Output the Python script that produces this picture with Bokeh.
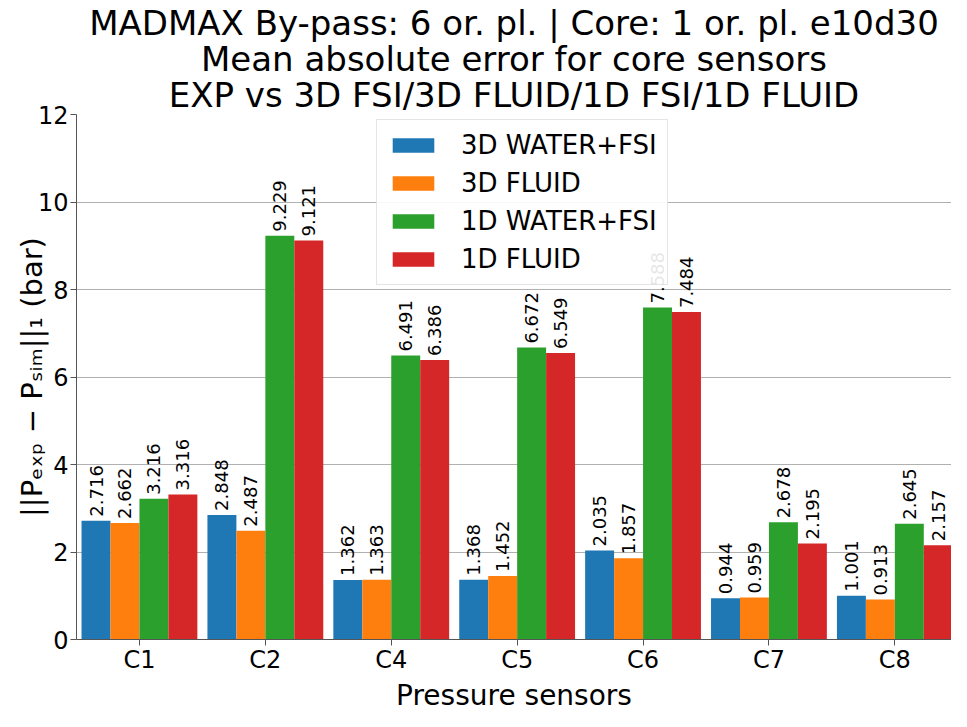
import numpy as np
from bokeh.plotting import figure
from bokeh.models import ColumnDataSource, Range1d, FixedTicker, Title, Legend, LegendItem
from bokeh.transform import dodge
from bokeh.core.properties import value
from bokeh.embed import file_html
from bokeh.resources import INLINE

sensors = ["C1", "C2", "C4", "C5", "C6", "C7", "C8"]
series_names = ["3D WATER+FSI", "3D FLUID", "1D WATER+FSI", "1D FLUID"]
water3d = [2.716, 2.848, 1.362, 1.368, 2.035, 0.944, 1.001]
fluid3d = [2.662, 2.487, 1.363, 1.452, 1.857, 0.959, 0.913]
water1d = [3.216, 9.229, 6.491, 6.672, 7.588, 2.678, 2.645]
fluid1d = [3.316, 9.121, 6.386, 6.549, 7.484, 2.195, 2.157]
colors = ["#1f77b4", "#ff7f0e", "#2ca02c", "#d62728"]
y_ticks = [0, 2, 4, 6, 8, 10, 12]
title_lines = ["MADMAX By-pass: 6 or. pl. | Core: 1 or. pl. e10d30",
               "Mean absolute error for core sensors",
               "EXP vs 3D FSI/3D FLUID/1D FSI/1D FLUID"]
x_label = "Pressure sensors"
y_label = "||Pₑₓₚ − Pₛᵢₘ||₁ (bar)"

FONT = "DejaVu Sans"
bw = 0.23
idx = list(range(len(sensors)))

p = figure(width=951, height=711, output_backend="svg", toolbar_location=None,
           title=None, x_range=Range1d(-0.5, 6.45), y_range=Range1d(0, 12))
p.min_border_left = 76
p.min_border_right = 0
p.min_border_top = 0
p.min_border_bottom = 0

t = Title(text="\n".join(title_lines), align="center", text_align="center",
          text_font=FONT, text_font_size="34px", text_font_style="normal",
          text_color="black", text_line_height=0.9, standoff=0, offset=0)
p.add_layout(t, "above")

items = []
all_vals = [water3d, fluid3d, water1d, fluid1d]
for k, (name, vals, col) in enumerate(zip(series_names, all_vals, colors)):
    off = (k - 1.5) * bw
    src = ColumnDataSource(dict(x=idx, top=vals, lab=["%.3f" % v for v in vals]))
    r = p.vbar(x=dodge("x", off), top="top", width=bw, bottom=0, source=src,
               fill_color=col, line_color=None)
    p.text(x=dodge("x", off), y="top", text="lab", source=src, angle=np.pi / 2,
           text_align="left", text_baseline="middle", y_offset=-4,
           text_font=value(FONT), text_font_size="18px", text_color="black")
    items.append(LegendItem(label=name, renderers=[r]))

legend = Legend(items=items, location=(300, 354))
legend.label_text_font = FONT
legend.label_text_font_size = "26px"
legend.label_text_color = "black"
legend.glyph_width = 52
legend.glyph_height = 18
legend.label_height = 29
legend.spacing = 8
legend.padding = 10
legend.margin = 0
legend.label_standoff = 22
legend.border_line_color = "#cccccc"
legend.background_fill_alpha = 0.9
p.add_layout(legend, "center")

xt = Title(text=x_label, align="center", text_align="center",
           text_font=FONT, text_font_size="28px", text_font_style="normal",
           text_color="black", standoff=0, offset=0)
p.add_layout(xt, "below")

p.xaxis.ticker = FixedTicker(ticks=idx)
p.xaxis.major_label_overrides = {i: s for i, s in enumerate(sensors)}
p.yaxis.ticker = FixedTicker(ticks=y_ticks)
p.yaxis.axis_label = y_label
for ax in (p.xaxis[0], p.yaxis[0]):
    ax.axis_label_text_font = FONT
    ax.axis_label_text_font_size = "29px"
    ax.axis_label_text_font_style = "normal"
    ax.axis_label_text_color = "black"
    ax.major_label_text_font = FONT
    ax.major_label_text_font_size = "24px"
    ax.major_label_text_color = "black"
    ax.major_tick_out = 6
    ax.major_tick_in = 0
    ax.minor_tick_out = 0
    ax.minor_tick_in = 0
    ax.axis_line_color = "#555555"
    ax.major_tick_line_color = "#555555"
    ax.major_label_standoff = 2
p.xaxis.major_label_standoff = 0
p.yaxis.axis_label_standoff = -14
p.xgrid.grid_line_color = None
p.ygrid.grid_line_color = "#b0b0b0"
p.ygrid.grid_line_width = 1
p.outline_line_color = None

open("out.html", "w").write(file_html(p, INLINE))
